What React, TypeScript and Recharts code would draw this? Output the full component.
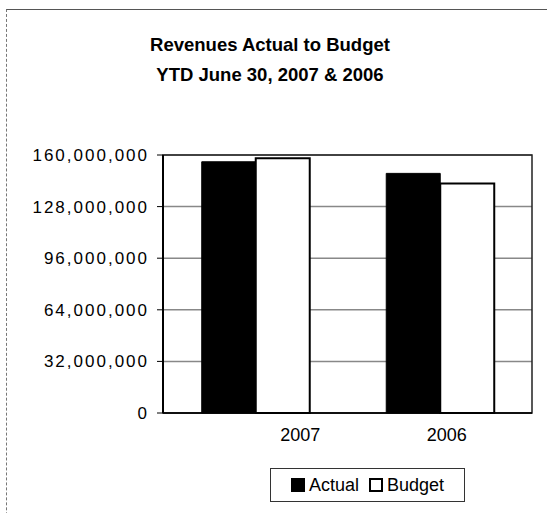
import { Bar, BarChart, CartesianGrid, Legend, ReferenceArea, XAxis, YAxis } from "recharts";

const years = ["2007", "2006"];
const actual = [155800000, 148600000];
const budget = [158000000, 142400000];
const yTicks = [0, 32000000, 64000000, 96000000, 128000000, 160000000];

const data = years.map((year, i) => ({ year, actual: actual[i], budget: budget[i] }));

const FONT = "'Liberation Sans', Arial, sans-serif";
// the scanned original prints the year labels off-centre
const yearShift = [45, 7];

const fmt = (v: number) => v.toLocaleString("en-US");

function YearTick({ x, y, payload, index }: any) {
  return (
    <text
      x={x + (yearShift[index] ?? 0)}
      y={y + 20}
      textAnchor="middle"
      fill="#000"
      fontFamily={FONT}
      fontSize={18}
    >
      {payload.value}
    </text>
  );
}

function LegendBox({ payload }: any) {
  return (
    <div
      style={{
        display: "flex",
        alignItems: "center",
        justifyContent: "center",
        gap: 10,
        border: "1px solid #333",
        height: 32,
        fontFamily: FONT,
        fontSize: 18,
        color: "#000",
      }}
    >
      {(payload || []).map((p: any) => (
        <span key={p.value} style={{ display: "flex", alignItems: "center", gap: 4 }}>
          <span
            style={{
              display: "inline-block",
              width: 10,
              height: 10,
              background: p.payload?.fill ?? p.color,
              border: "2px solid #000",
            }}
          />
          {p.value}
        </span>
      ))}
    </div>
  );
}

export default function App() {
  return (
    <div style={{ position: "absolute", left: 0, top: 0, width: 547, height: 513, overflow: "hidden", background: "#fff" }}>
      <div
        style={{
          position: "absolute",
          left: 6,
          top: 9,
          width: 600,
          height: 600,
          borderTop: "1px solid #555",
          borderLeft: "1px dashed #777",
        }}
      />
      <div
        style={{
          position: "absolute",
          left: 0,
          top: 30,
          width: 540,
          textAlign: "center",
          fontFamily: FONT,
          fontWeight: "bold",
          fontSize: 18.5,
          lineHeight: "30px",
          color: "#000",
        }}
      >
        <div>Revenues Actual to Budget</div>
        <div>YTD June 30, 2007 &amp; 2006</div>
      </div>
      <BarChart
        width={547}
        height={513}
        data={data}
        margin={{ top: 155, right: 15, bottom: 36, left: 8 }}
        barCategoryGap="21%"
        barGap={0}
        style={{ position: "absolute", left: 0, top: 0 }}
      >
        <CartesianGrid vertical={false} stroke="#888" strokeWidth={1.5} />
        <XAxis
          dataKey="year"
          axisLine={{ stroke: "#000", strokeWidth: 1.5 }}
          tickLine={false}
          tick={<YearTick />}
          height={30}
        />
        <YAxis
          width={155}
          domain={[0, 160000000]}
          ticks={yTicks}
          tickFormatter={fmt}
          axisLine={{ stroke: "#000", strokeWidth: 2 }}
          tickLine={{ stroke: "#000" }}
          tickSize={6}
          tickMargin={8}
          tick={{ fill: "#000", fontFamily: FONT, fontSize: 17, letterSpacing: 2 }}
        />
        <ReferenceArea y1={0} y2={160000000} fill="none" stroke="#222" strokeWidth={1.5} ifOverflow="visible" />
        <Bar dataKey="actual" name="Actual" fill="#000" stroke="#000" strokeWidth={1} isAnimationActive={false} />
        <Bar dataKey="budget" name="Budget" fill="#fff" stroke="#000" strokeWidth={2} isAnimationActive={false} />
        <Legend
          content={<LegendBox />}
          wrapperStyle={{ position: "absolute", left: 270, top: 468, width: 195, bottom: "auto" }}
        />
      </BarChart>
    </div>
  );
}
